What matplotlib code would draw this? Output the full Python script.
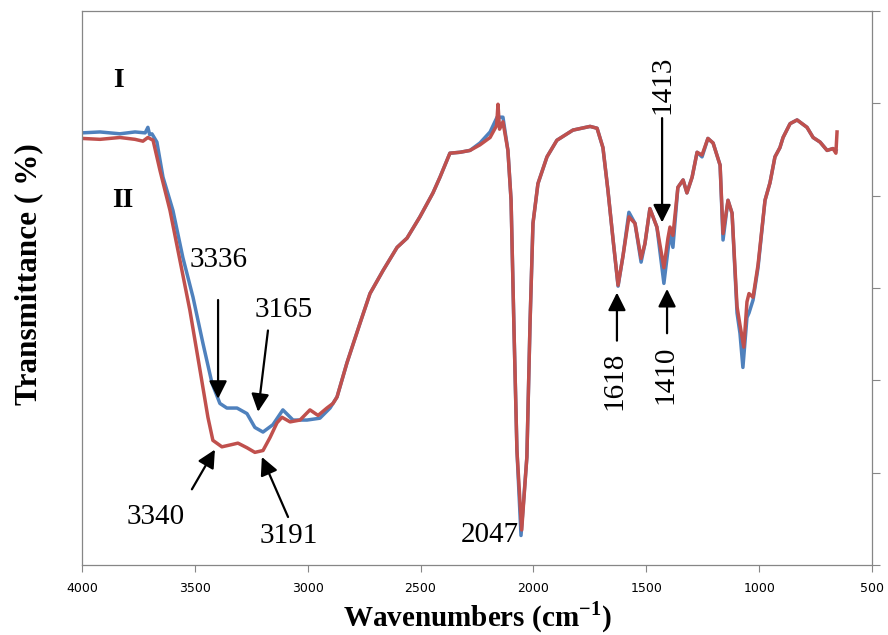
import numpy as np
import matplotlib
matplotlib.use("Agg")
import matplotlib.pyplot as plt

# FTIR spectra (wavenumber in cm-1, transmittance in arbitrary %)
wn_I = [4000, 3920, 3832, 3765, 3720, 3708, 3700, 3690, 3668, 3641, 3597, 3553, 3508, 3464,
        3424, 3389, 3358, 3313, 3269, 3234, 3198, 3154, 3110, 3065, 3003, 2946, 2901, 2870,
        2826, 2768, 2724, 2666, 2604, 2560, 2503, 2445, 2414, 2370, 2325, 2281, 2237, 2192,
        2161, 2135, 2113, 2099, 2086, 2073, 2055, 2029, 2015, 2002, 1980, 1940, 1896,
        1825, 1749, 1718, 1692, 1670, 1647, 1625, 1603, 1577, 1550, 1523, 1506, 1484, 1453,
        1422, 1404, 1395, 1382, 1360, 1337, 1320, 1297, 1275, 1253, 1227, 1204, 1173, 1160,
        1138, 1120, 1098, 1085, 1072, 1054, 1045, 1027, 1005, 974, 952, 930, 908, 894, 863,
        832, 788, 761, 730, 699, 673, 660]
T_I = [46.8, 46.9, 46.7, 46.9, 46.8, 47.4, 46.6, 46.7, 45.8, 42.0, 38.4, 33.3, 29.0, 24.0,
       19.7, 17.5, 17.0, 17.0, 16.4, 14.9, 14.4, 15.2, 16.8, 15.7, 15.7, 15.9, 17.0, 18.2,
       21.9, 26.2, 29.4, 31.9, 34.4, 35.4, 37.7, 40.3, 42.0, 44.6, 44.7, 44.9, 45.7, 46.9,
       48.5, 48.5, 44.9, 39.5, 25.4, 12.4, 3.2, 11.7, 26.2, 37.0, 41.3, 44.2, 46.0,
       47.1, 47.5, 47.3, 45.2, 40.6, 35.2, 30.2, 33.5, 38.2, 37.0, 32.8, 34.8, 38.6, 36.6,
       30.5, 34.1, 35.9, 34.4, 40.9, 41.7, 40.3, 42.0, 44.7, 44.2, 46.2, 45.7, 43.3, 35.2,
       39.5, 38.1, 27.3, 25.1, 21.4, 26.8, 27.3, 28.7, 32.2, 39.5, 41.4, 44.2, 45.2, 46.3, 47.8,
       48.2, 47.4, 46.3, 45.8, 44.9, 45.1, 44.9]

wn_II = [4000, 3920, 3832, 3765, 3730, 3708, 3685, 3654, 3610, 3566, 3522, 3477, 3442, 3420,
         3380, 3344, 3309, 3269, 3234, 3198, 3167, 3136, 3114, 3078, 3034, 2990, 2954, 2915,
         2888, 2870, 2826, 2768, 2724, 2666, 2604, 2560, 2503, 2445, 2414, 2370, 2325, 2281,
         2237, 2192, 2163, 2157, 2150, 2135, 2113, 2099, 2086, 2073, 2052, 2029, 2015,
         2002, 1980, 1940, 1896, 1825, 1749, 1718, 1692, 1670, 1647, 1625, 1603, 1577, 1550,
         1523, 1506, 1484, 1453, 1422, 1404, 1395, 1382, 1360, 1337, 1320, 1297, 1275, 1253,
         1227, 1204, 1173, 1160, 1138, 1120, 1098, 1085, 1068, 1054, 1045, 1027, 1005, 974,
         952, 930, 908, 894, 863, 832, 788, 761, 730, 699, 673, 660, 655]
T_II = [46.2, 46.1, 46.3, 46.1, 45.9, 46.3, 46.0, 42.7, 38.4, 33.0, 27.6, 21.1, 16.0, 13.5,
        12.8, 13.0, 13.2, 12.7, 12.2, 12.4, 13.8, 15.4, 16.0, 15.5, 15.7, 16.8, 16.2, 17.0,
        17.5, 18.2, 21.9, 26.2, 29.4, 31.9, 34.4, 35.4, 37.7, 40.3, 42.0, 44.6, 44.7, 44.9,
        45.5, 46.3, 47.6, 49.9, 47.2, 48.0, 44.9, 39.5, 25.4, 12.4, 3.8, 11.7, 26.2,
        37.0, 41.3, 44.2, 46.0, 47.1, 47.5, 47.3, 45.2, 40.6, 35.2, 30.3, 33.5, 37.7, 37.0,
        33.2, 34.8, 38.6, 36.6, 32.2, 35.4, 36.6, 35.7, 40.9, 41.7, 40.3, 42.0, 44.7, 44.4,
        46.2, 45.7, 43.3, 35.9, 39.5, 38.1, 28.0, 26.0, 23.6, 28.5, 29.4, 29.0, 32.5, 39.5,
        41.4, 44.2, 45.2, 46.3, 47.8, 48.2, 47.4, 46.3, 45.8, 44.9, 45.1, 44.6, 46.9]

# peak labels: text, label position, arrow tail, arrow tip (None = no arrow), rotation
peaks = [
    ("3336", (3397, 33.0), (3397, 28.7), (3397, 18.0), 0),
    ("3165", (3105, 27.6), (3176, 25.4), (3220, 16.6), 0),
    ("3340", (3672, 5.2), (3513, 8.2), (3411, 12.5), 0),
    ("3191", (3083, 3.1), (3087, 5.2), (3203, 11.7), 0),
    ("2047", (2192, 3.2), None, None, 0),
    ("1618", (1639, 20.0), (1630, 24.3), (1630, 29.5), 90),
    ("1410", (1417, 20.6), (1408, 25.1), (1408, 29.9), 90),
    ("1413", (1430, 52.0), (1430, 48.4), (1430, 37.1), 90),
]

SERIF = "Liberation Serif"
plt.rcParams["mathtext.fontset"] = "custom"
plt.rcParams["mathtext.rm"] = SERIF
plt.rcParams["mathtext.bf"] = SERIF + ":bold"

fig = plt.figure(figsize=(8.88, 6.35), dpi=100)
ax = fig.add_axes([0.0923, 0.1102, 0.8897, 0.8725])

ax.plot(wn_I, T_I, color="#4F81BD", lw=2.5, solid_joinstyle="round")
ax.plot(wn_II, T_II, color="#C0504D", lw=2.5, solid_joinstyle="round")

ax.set_xlim(4000, 500)
ax.set_ylim(0, 60)
ax.set_xticks(np.arange(4000, 499, -500))
ax.set_yticks(np.arange(0, 61, 10))
ax.yaxis.tick_right()
ax.tick_params(axis="y", direction="out", length=6, color="#868686", labelright=False)
ax.tick_params(axis="x", direction="out", length=5, color="#868686", labelsize=9, pad=7)
for s in ax.spines.values():
    s.set_color("#868686"); s.set_linewidth(0.9)

ax.set_xlabel("Wavenumbers (cm$^{\\mathbf{-1}}$)", family=SERIF, fontsize=21, fontweight="bold")
ax.xaxis.set_label_coords(0.5, -0.062)
ax.set_ylabel("Transmittance ( %)", family=SERIF, fontsize=22.5, fontweight="bold")
ax.yaxis.set_label_position("left")
ax.yaxis.set_label_coords(-0.068, 0.525)
ax.yaxis.label.set_va("center")

ax.text(3840, 52.5, "I", family=SERIF, fontsize=20, fontweight="bold", ha="center", va="center")
ax.text(3818, 39.5, "II", family=SERIF, fontsize=20, fontweight="bold", ha="center", va="center")

for txt, pos, tail, tip, rot in peaks:
    ax.text(pos[0], pos[1], txt, family=SERIF, fontsize=21, ha="center", va="center", rotation=rot)
    if tail is not None:
        ax.annotate("", xy=tip, xytext=tail,
                    arrowprops=dict(arrowstyle="-|>,head_length=0.6,head_width=0.3", color="black",
                                    lw=1.6, mutation_scale=18, shrinkA=0, shrinkB=0))

fig.savefig("out.png", dpi=100)
